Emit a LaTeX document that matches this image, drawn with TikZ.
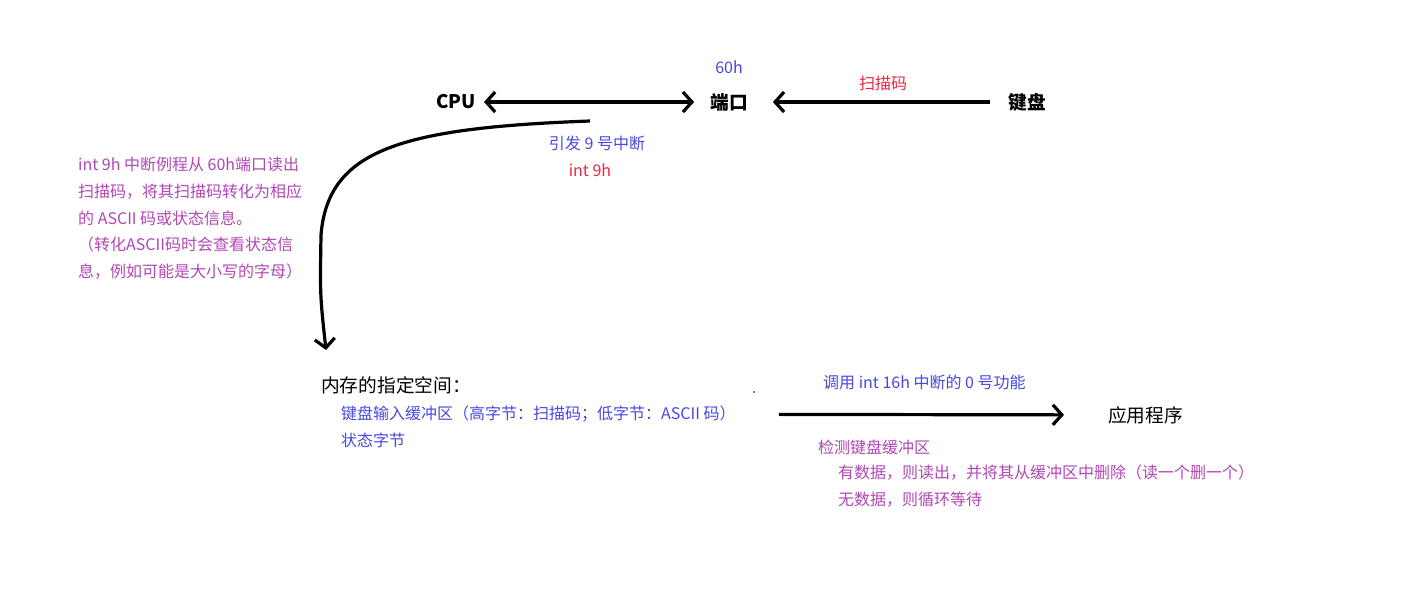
\documentclass[tikz,border=0pt]{standalone}
\usepackage{fontspec}
\setmainfont{Noto Sans CJK SC}
\usepackage{xcolor}
\usetikzlibrary{arrows.meta,positioning}

\definecolor{infoblue}{RGB}{72,72,224}
\definecolor{scanred}{RGB}{238,36,64}
\definecolor{notepurple}{RGB}{178,70,180}

\begin{document}
\begin{tikzpicture}[x=1pt, y=-1pt,
    every node/.style={inner sep=0pt, font=\fontsize{16}{26.7}\selectfont},
    big/.style={font=\fontsize{18.7}{24}\selectfont},
    bigbold/.style={font=\fontsize{18.7}{24}\selectfont\bfseries},
    info/.style={text=infoblue},
    scan/.style={text=scanred},
    note/.style={text=notepurple},
    flow/.style={line width=3.2pt, arrows=-{Straight Barb[length=9pt,width=20pt]}},
    twoway/.style={line width=3.2pt, arrows={Straight Barb[length=9pt,width=20pt]}-{Straight Barb[length=9pt,width=20pt]}}]
	\useasboundingbox (0,0) rectangle (1405,612);

	% devices
	\node[bigbold] (cpu) at (456,102) {CPU};
	\node[bigbold] (port) at (729,102) {端口};
	\node[bigbold] (kbd) at (1027,102) {键盘};
	\node[info, above=19pt of port] (portnum) {60h};
	\node[scan] (scancode) at (883,83) {扫描码};
	\node[info] (irq9) at (597,143) {引发 9 号中断};
	\node[scan] (int9) at (590,170) {int 9h};

	\draw[twoway, shorten <=8pt, shorten >=16pt] (cpu) -- (port);
	\draw[flow, shorten <=18pt, shorten >=25pt] (kbd) -- (port);

	% interrupt routine
	\node[note, anchor=north west, align=left] (isr) at (78,157)
		{int 9h 中断例程从 60h端口读出\\扫描码，将其扫描码转化为相应\\的 ASCII 码或状态信息。\\（转化ASCII码时会查看状态信\\息，例如可能是大小写的字母）};
	\coordinate (irqstart) at (590,121);
	\coordinate (memtop) at (326,350);
	\draw[flow] (irqstart) .. controls (400,128) and (328,150) .. (321,235) .. controls (320,295) .. (memtop);

	% memory
	\node[big, anchor=west] (mem) at (321,385) {内存的指定空间：};
	\node[info, anchor=west] (buf) at (341,414) {键盘输入缓冲区（高字节：扫描码；低字节：ASCII 码）};
	\node[info, anchor=west] (flags) at (341,440) {状态字节};
	\fill (754,392) circle (0.8pt);

	% application
	\node[big, anchor=west] (app) at (1108,415) {应用程序};
	\node[info, anchor=west] (call) at (823,382) {调用 int 16h 中断的 0 号功能};
	\draw[flow, shorten <=43pt, shorten >=44pt] (buf) -- (app);
	\node[note, anchor=west] (check) at (818,447) {检测键盘缓冲区};
	\node[note, anchor=west] (hasdata) at (838,473) {有数据，则读出，并将其从缓冲区中删除（读一个删一个）};
	\node[note, anchor=west] (nodata) at (838,500) {无数据，则循环等待};
\end{tikzpicture}
\end{document}
